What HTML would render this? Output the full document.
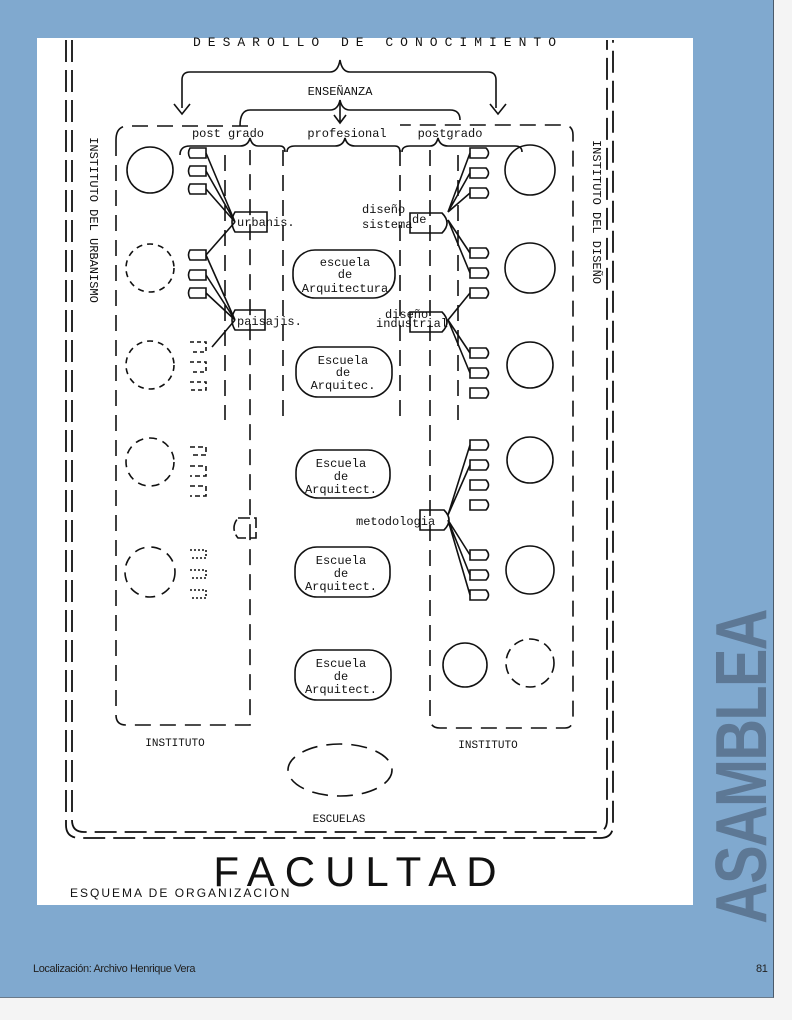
<!DOCTYPE html>
<html><head><meta charset="utf-8"><style>
html,body{margin:0;padding:0;width:792px;height:1020px;overflow:hidden;background:#f4f4f4;}
#pg{position:absolute;left:0;top:0;width:773px;height:997px;background:#80a9cf;border-right:1px solid #4a5a6a;border-bottom:1px solid #6a7a8a;}
#scan{position:absolute;left:37px;top:38px;width:656px;height:867px;background:#fff;}
.foot{position:absolute;top:963px;font-family:"Liberation Sans",sans-serif;font-size:11px;color:#222;letter-spacing:-0.4px}
#asam{position:absolute;left:742px;top:767px;transform:translate(-50%,-50%) rotate(-90deg) scaleX(0.8);font-family:"Liberation Sans",sans-serif;font-weight:bold;font-size:72px;color:#5d7895;letter-spacing:-2px;white-space:nowrap;line-height:1}
svg text{font-family:"Liberation Mono",monospace;fill:#111}
</style></head><body>
<div id="pg"></div>
<div id="scan"></div>
<div id="asam">ASAMBLEA</div>
<div class="foot" style="left:33px">Localización: Archivo Henrique Vera</div>
<div class="foot" style="left:756px">81</div>
<svg width="792" height="1020" style="position:absolute;left:0;top:0" fill="none" stroke="#111" stroke-width="1.6">
<text x="378" y="46" font-size="13" text-anchor="middle" letter-spacing="7" fill="#333" stroke="none">DESAROLLO DE CONOCIMIENTO</text>
<path d="M182 108 V80 Q182 72 190 72 H330 Q338 72 340 60 Q342 72 350 72 H488 Q496 72 496 80 V108"/>
<path d="M174 104 L182 114 L190 104 M490 104 L498 114 L506 104"/>
<text x="340" y="95" font-size="12" text-anchor="middle" stroke="none">ENSEÑANZA</text>
<path d="M240 126 Q240 110 250 110 H330 Q338 110 340 100 Q342 110 350 110 H450 Q460 110 460 120"/>
<path d="M340 102 V122 M334 115 L340 123 L346 115"/>
<text x="228" y="137" font-size="12" text-anchor="middle" stroke="none">post grado</text>
<text x="347" y="137" font-size="12" text-anchor="middle" stroke="none">profesional</text>
<text x="450" y="137" font-size="12" text-anchor="middle" stroke="none">postgrado</text>
<path d="M180 155 Q180 146 190 146 H240 Q248 146 250 138 Q252 146 258 146 H280 Q285 146 285 152"/>
<path d="M287 152 Q287 146 295 146 H335 Q343 146 345 138 Q347 146 355 146 H395 Q400 146 400 152"/>
<path d="M402 152 Q402 146 410 146 H430 Q436 146 438 138 Q440 146 448 146 H515 Q522 146 522 152"/>
<g stroke-dasharray="22 8" stroke-width="1.8">
<path d="M66 40 V825 Q66 838 80 838 H600 Q613 838 613 825 V40"/>
<path d="M72 40 V820 Q72 832 84 832 H596 Q607 832 607 820 V40"/>
</g>
<g stroke-dasharray="16 9">
<path d="M116 140 Q116 126 128 126 H250 M116 140 V715 Q116 725 126 725 H250 V150"/>
<path d="M283 150 V425 M400 150 V420"/>
<path d="M430 150 V718 Q430 728 440 728 H565 Q573 728 573 718 V135 Q573 125 563 125 H400"/>
<path d="M225 155 V420"/>
<path d="M458 155 V420"/>
<ellipse cx="340" cy="770" rx="52" ry="26"/>
</g>
<text x="90" y="220" font-size="12" stroke="none" text-anchor="middle" transform="rotate(90 90 220)">INSTITUTO DEL URBANISMO</text>
<text x="593" y="212" font-size="12" stroke="none" text-anchor="middle" transform="rotate(90 593 212)">INSTITUTO DEL DISEÑO</text>
<circle cx="150" cy="170" r="23"/>
<circle cx="150" cy="268" r="24" stroke-dasharray="6 5"/>
<circle cx="150" cy="365" r="24" stroke-dasharray="6 5"/>
<circle cx="150" cy="462" r="24" stroke-dasharray="8 6"/>
<circle cx="150" cy="572" r="25" stroke-dasharray="10 7"/>
<circle cx="530" cy="170" r="25"/>
<circle cx="530" cy="268" r="25"/>
<circle cx="530" cy="365" r="23"/>
<circle cx="530" cy="460" r="23"/>
<circle cx="530" cy="570" r="24"/>
<circle cx="465" cy="665" r="22"/>
<circle cx="530" cy="663" r="24" stroke-dasharray="10 6"/>
<g>
<path d="M190 148 h16 v10 h-16 q-3 -5 0 -10z M190 166 h16 v10 h-16 q-3 -5 0 -10z M190 184 h16 v10 h-16 q-3 -5 0 -10z"/>
<path d="M190 250 h16 v10 h-16 q-3 -5 0 -10z M190 270 h16 v10 h-16 q-3 -5 0 -10z M190 288 h16 v10 h-16 q-3 -5 0 -10z"/>
<path d="M190 342 h16 v10 h-16 M190 362 h16 v10 h-16 M190 382 h16 v8 h-16" stroke-dasharray="4 3"/>
<path d="M190 447 h16 v8 h-16 M190 466 h16 v10 h-16 M190 486 h16 v10 h-16" stroke-dasharray="5 3"/>
<path d="M190 550 h16 v8 h-16 M190 570 h16 v8 h-16 M190 590 h16 v8 h-16" stroke-dasharray="2 2"/>
<path d="M206 153 L235 222 M206 171 L235 222 M206 189 L235 222 M206 255 L235 222 M206 275 L235 320 M206 293 L235 320 M206 255 L235 320 M235 320 L212 347"/>
<path d="M235 212 h32 v20 h-32 q-6 -10 0 -20z M235 310 h30 v20 h-30 q-6 -10 0 -20z"/>
<path d="M238 518 h18 v20 h-18 q-8 -10 0 -20z" stroke-dasharray="12 4"/>
</g>
<text x="237" y="226" font-size="12" stroke="none">urbanis.</text>
<text x="237" y="325" font-size="12" stroke="none">paisajis.</text>
<path d="M470 148 h16 q5 5 0 10 h-16z M470 168 h16 q5 5 0 10 h-16z M470 188 h16 q5 5 0 10 h-16z M470 248 h16 q5 5 0 10 h-16z M470 268 h16 q5 5 0 10 h-16z M470 288 h16 q5 5 0 10 h-16z M470 348 h16 q5 5 0 10 h-16z M470 368 h16 q5 5 0 10 h-16z M470 388 h16 q5 5 0 10 h-16z M470 440 h16 q5 5 0 10 h-16z M470 460 h16 q5 5 0 10 h-16z M470 480 h16 q5 5 0 10 h-16z M470 500 h16 q5 5 0 10 h-16z M470 550 h16 q5 5 0 10 h-16z M470 570 h16 q5 5 0 10 h-16z M470 590 h16 q5 5 0 10 h-16z"/>
<path d="M448 212 L470 153 M448 212 L470 173 M448 212 L470 193 M448 220 L470 253 M448 220 L470 273 M448 320 L470 293 M448 320 L470 353 M448 320 L470 373 M448 515 L470 445 M448 515 L470 465 M448 520 L470 555 M448 520 L470 575 M448 520 L470 595"/>
<path d="M410 213 h32 q10 10 0 20 h-32z M410 312 h32 q10 10 0 20 h-32z M420 510 h24 q10 10 0 20 h-24z"/>
<text x="362" y="213" font-size="12" stroke="none">diseño</text>
<text x="362" y="228" font-size="12" stroke="none">sistema</text>
<text x="412" y="223" font-size="12" stroke="none">de</text>
<text x="385" y="318" font-size="12" stroke="none">diseño</text>
<text x="376" y="327" font-size="12" stroke="none">industrial</text>
<text x="356" y="525" font-size="12" stroke="none">metodologia</text>
<rect x="293" y="250" width="102" height="48" rx="22"/>
<rect x="296" y="347" width="96" height="50" rx="22"/>
<rect x="296" y="450" width="94" height="48" rx="22"/>
<rect x="295" y="547" width="95" height="50" rx="22"/>
<rect x="295" y="650" width="96" height="50" rx="22"/>
<g font-size="12" stroke="none" text-anchor="middle">
<text x="345" y="266">escuela</text><text x="345" y="278">de</text><text x="345" y="292">Arquitectura</text>
<text x="343" y="364">Escuela</text><text x="343" y="376">de</text><text x="343" y="389">Arquitec.</text>
<text x="341" y="467">Escuela</text><text x="341" y="480">de</text><text x="341" y="493">Arquitect.</text>
<text x="341" y="564">Escuela</text><text x="341" y="577">de</text><text x="341" y="590">Arquitect.</text>
<text x="341" y="667">Escuela</text><text x="341" y="680">de</text><text x="341" y="693">Arquitect.</text>
<text x="175" y="746" font-size="11">INSTITUTO</text>
<text x="488" y="748" font-size="11">INSTITUTO</text>
<text x="339" y="822" font-size="11">ESCUELAS</text>
</g>
<text x="360" y="886" font-size="42" stroke="none" text-anchor="middle" letter-spacing="10" style="font-family:'Liberation Sans',sans-serif">FACULTAD</text>
<text x="70" y="897" font-size="12" stroke="none" letter-spacing="2" style="font-family:'Liberation Sans',sans-serif">ESQUEMA DE ORGANIZACION</text>
</svg>
</body></html>
